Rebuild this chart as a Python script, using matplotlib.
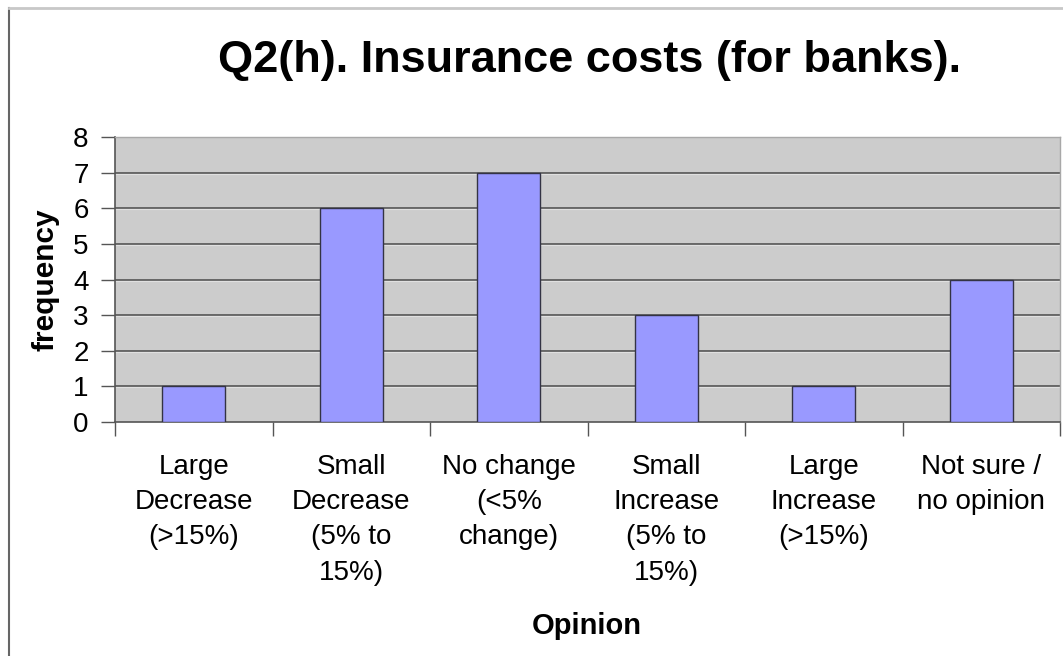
import matplotlib
matplotlib.use('Agg')
import matplotlib.pyplot as plt
from matplotlib.lines import Line2D

plt.rcParams['font.family'] = ['Liberation Sans', 'DejaVu Sans']

categories = ['Large\nDecrease\n(>15%)', 'Small\nDecrease\n(5% to\n15%)', 'No change\n(<5%\nchange)',
              'Small\nIncrease\n(5% to\n15%)', 'Large\nIncrease\n(>15%)', 'Not sure /\nno opinion']
freq = [1, 6, 7, 3, 1, 4]
yticks = [0, 1, 2, 3, 4, 5, 6, 7, 8]

W, H = 1063, 656
fig = plt.figure(figsize=(W / 100, H / 100), dpi=100)
ax = fig.add_axes([115 / W, (H - 422) / H, 945 / W, 285 / H])
ax.set_facecolor('#CCCCCC')

x = list(range(len(freq)))
ax.bar(x, freq, width=0.4, color='#9999FF', edgecolor='#333344', linewidth=1, zorder=3)
ax.set_xlim(-0.5, len(freq) - 0.5)
ax.set_ylim(0, 8)
ax.set_yticks(yticks)
for v in yticks[1:-1]:
    ax.axhline(v, color='#555555', linewidth=1.2, zorder=1)
    ax.axhline(v - 0.03, color='#E0E0E0', linewidth=0.8, zorder=1)

ax.set_xticks([i + 0.5 for i in range(-1, len(freq))])
ax.set_xticklabels([])
ax.set_xticks(x, minor=True)
ax.set_xticklabels(categories, minor=True, fontsize=20, linespacing=1.46, va='top')
ax.tick_params(axis='x', which='minor', length=0, pad=23)
ax.tick_params(axis='x', which='major', length=10, width=1, color='#555555', direction='out')
ax.tick_params(axis='y', length=10, width=1, color='#555555', direction='out', labelsize=20, pad=9)

for s in ['left', 'bottom']:
    ax.spines[s].set_color('#555555')
    ax.spines[s].set_linewidth(1.2)
for s in ['top', 'right']:
    ax.spines[s].set_color('#A8A8A8')
    ax.spines[s].set_linewidth(1)

ax.set_ylabel('frequency', fontsize=21.5, fontweight='bold', labelpad=10)
fig.text(587 / W, 1 - 634 / H, 'Opinion', fontsize=21, fontweight='bold', ha='center', va='baseline')
fig.text(590 / W, 1 - 72 / H, 'Q2(h). Insurance costs (for banks).', fontsize=32.5, fontweight='bold',
         ha='center', va='baseline')

# chart border (partly cut off in the original)
fig.add_artist(Line2D([9 / W, 9 / W], [0, 1 - 8 / H], color='#666666', linewidth=1.5))
fig.add_artist(Line2D([9 / W, 1], [1 - 8 / H, 1 - 8 / H], color='#C8C8C8', linewidth=2))

fig.savefig('out.png', dpi=100)
